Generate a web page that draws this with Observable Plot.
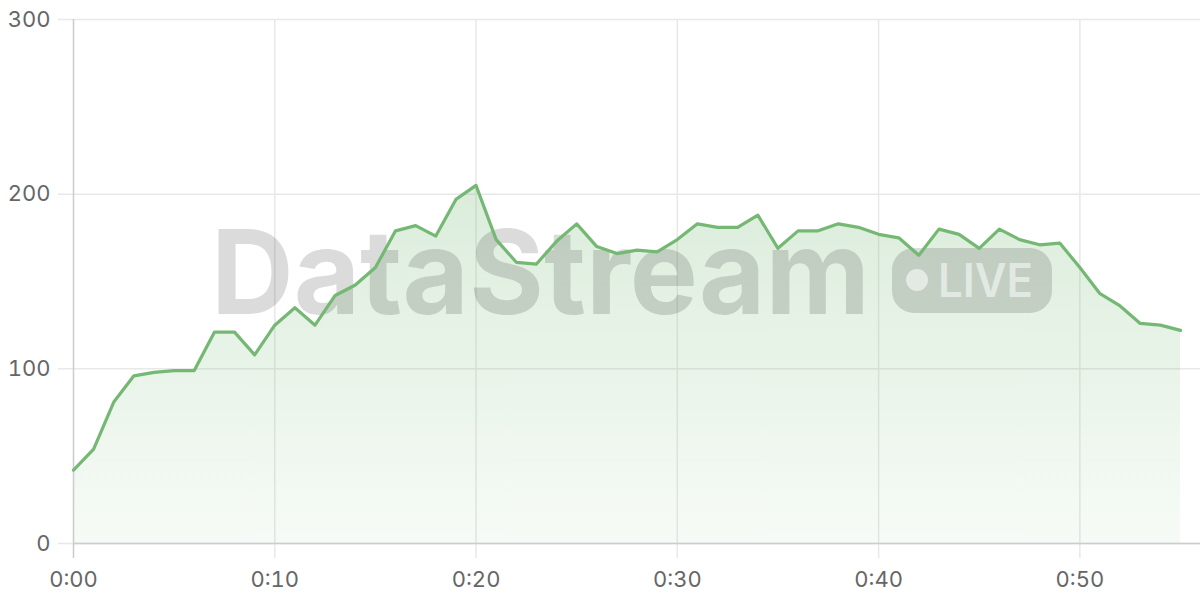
<!DOCTYPE html>
<html><head><meta charset="utf-8">
<script src="https://cdn.jsdelivr.net/npm/d3@7"></script>
<script src="https://cdn.jsdelivr.net/npm/@observablehq/plot@0.6"></script>
<style>body{margin:0;background:#fff;font-family:Inter,sans-serif}</style>
</head><body><div id="chart"></div>
<script>
const minutes = [0,1,2,3,4,5,6,7,8,9,10,11,12,13,14,15,16,17,18,19,20,21,22,23,24,25,26,27,28,29,30,31,32,33,34,35,36,37,38,39,40,41,42,43,44,45,46,47,48,49,50,51,52,53,54,55];
const values = [42,54,81,96,98,99,99,121,121,108,125,135,125,142,148,158,179,182,176,197,205,174,161,160,173,183,170,166,168,167,174,183,181,181,188,169,179,179,183,181,177,175,165,180,177,169,180,174,171,172,158,143,136,126,125,122];
const yTicks = [0,100,200,300];
const xTicks = [0,10,20,30,40,50];
const xTickLabels = ["0:00","0:10","0:20","0:30","0:40","0:50"];
const lineColor = "#74b874";

const data = minutes.map((m, i) => ({m, v: values[i]}));

const defs = () => {
  const d = d3.create("svg:defs");
  const g = d.append("linearGradient").attr("id", "areaGrad")
    .attr("x1", 0).attr("x2", 0).attr("y1", 0).attr("y2", 1);
  g.append("stop").attr("offset", "0%").attr("stop-color", lineColor).attr("stop-opacity", 0.26);
  g.append("stop").attr("offset", "100%").attr("stop-color", lineColor).attr("stop-opacity", 0.06);
  return d.node();
};

const watermark = (index, scales, values, dims) => {
  const g = d3.create("svg:g").attr("pointer-events", "none").attr("text-anchor", "start");
  const ox = dims.marginLeft, oy = dims.marginTop;
  g.append("text").text("DataStream")
    .attr("x", ox + 138).attr("y", oy + 295).attr("text-anchor", "start")
    .attr("font-family", "Inter, sans-serif").attr("font-weight", 700).attr("font-size", 117)
    .attr("textLength", 659).attr("lengthAdjust", "spacingAndGlyphs")
    .attr("fill", "#000").attr("fill-opacity", 0.14);
  g.append("rect").attr("x", ox + 819).attr("y", oy + 229).attr("width", 160).attr("height", 65)
    .attr("rx", 22).attr("fill", "#000").attr("fill-opacity", 0.14);
  g.append("circle").attr("cx", ox + 844).attr("cy", oy + 261).attr("r", 11)
    .attr("fill", "#fff").attr("fill-opacity", 0.55);
  g.append("text").text("LIVE")
    .attr("x", ox + 865).attr("y", oy + 278).attr("text-anchor", "start")
    .attr("font-family", "Inter, sans-serif").attr("font-weight", 600).attr("font-size", 46)
    .attr("textLength", 95).attr("lengthAdjust", "spacingAndGlyphs")
    .attr("fill", "#fff").attr("fill-opacity", 0.55);
  return g.node();
};

const chart = Plot.plot({
  width: 1200,
  height: 600,
  marginLeft: 73,
  marginRight: 20,
  marginTop: 19,
  marginBottom: 57,
  style: {fontFamily: "Inter, sans-serif", fontSize: "22px", background: "#fff"},
  x: {domain: [0, 55]},
  y: {domain: [0, 300]},
  marks: [
    defs,
    Plot.ruleY(yTicks, {stroke: "#e8e8e8", strokeWidth: 1.5, insetLeft: -15, insetRight: -20}),
    Plot.ruleX(xTicks.slice(1), {stroke: "#e8e8e8", strokeWidth: 1.5, insetBottom: -15}),
    Plot.areaY(data, {x: "m", y: "v", fill: "url(#areaGrad)"}),
    watermark,
    Plot.ruleY([0], {stroke: "#cccccc", strokeWidth: 1.5, insetRight: -20}),
    Plot.ruleX([0], {stroke: "#cccccc", strokeWidth: 1.5, insetBottom: -15}),
    Plot.lineY(data, {x: "m", y: "v", stroke: lineColor, strokeWidth: 3.2}),
    Plot.axisY(yTicks, {tickSize: 0, tickPadding: 23, fontSize: 22, fill: "#666", label: null}),
    Plot.axisX(xTicks, {tickSize: 0, tickPadding: 28, fontSize: 22, fill: "#666", label: null,
      tickFormat: d => xTickLabels[xTicks.indexOf(d)]})
  ]
});
document.getElementById("chart").appendChild(chart);
</script>
</body></html>
